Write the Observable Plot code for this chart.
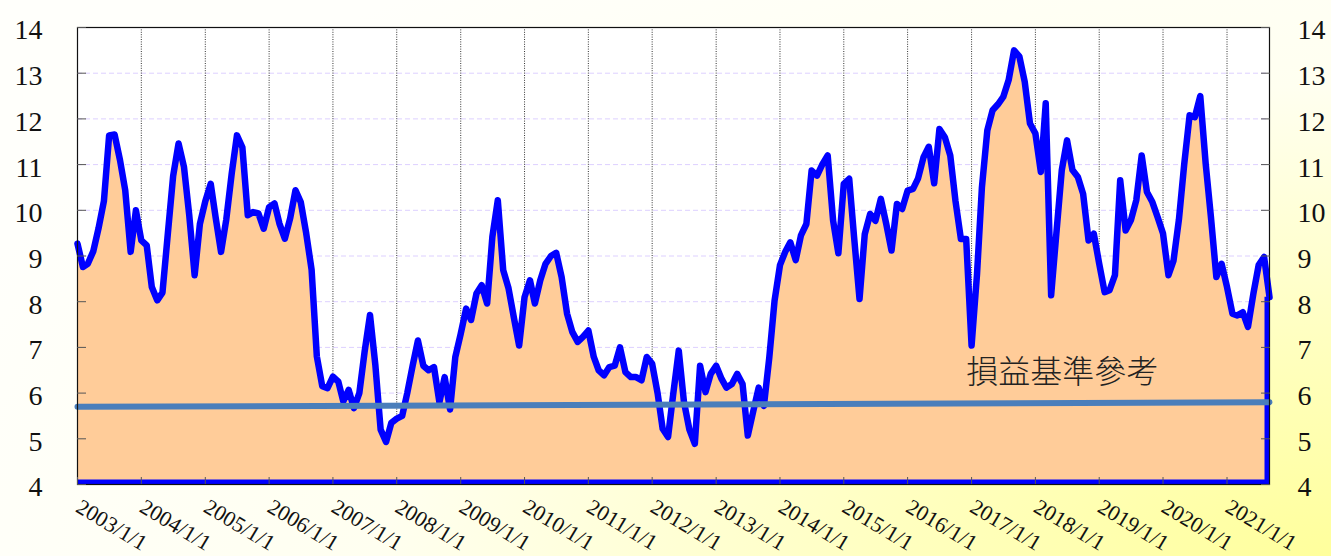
<!DOCTYPE html>
<html><head><meta charset="utf-8">
<script src="https://cdn.jsdelivr.net/npm/d3@7"></script>
<script src="https://cdn.jsdelivr.net/npm/@observablehq/plot@0.6"></script>
<style>
html,body{margin:0;padding:0;width:1331px;height:556px;overflow:hidden;
background: radial-gradient(ellipse 110% 130% at 100% 100%, #ffff9c 0%, #ffffc0 30%, #fffff0 65%, #fffffb 100%);}
svg{display:block}
</style></head><body><div id="chart"></div>
<script>
// monthly values, one array per year
const y2003 = [9.27, 8.76, 8.83, 9.1, 9.6, 10.2, 11.64, 11.66, 11.1, 10.44, 9.09, 10.0];
const y2004 = [9.34, 9.23, 8.32, 8.03, 8.2, 9.5, 10.75, 11.46, 10.95, 9.9, 8.58, 9.7];
const y2005 = [10.2, 10.58, 9.85, 9.09, 9.8, 10.8, 11.64, 11.38, 9.89, 9.96, 9.93, 9.6];
const y2006 = [10.07, 10.15, 9.71, 9.38, 9.82, 10.44, 10.18, 9.5, 8.7, 6.8, 6.15, 6.11];
const y2007 = [6.36, 6.25, 5.82, 6.07, 5.67, 6.0, 6.9, 7.71, 6.6, 5.2, 4.93, 5.35];
const y2008 = [5.44, 5.5, 6.0, 6.6, 7.15, 6.6, 6.5, 6.57, 5.8, 6.35, 5.64, 6.79];
const y2009 = [7.3, 7.85, 7.6, 8.18, 8.36, 7.96, 9.42, 10.22, 8.69, 8.3, 7.65, 7.04];
const y2010 = [8.1, 8.47, 7.96, 8.47, 8.83, 9.0, 9.07, 8.54, 7.74, 7.34, 7.12, 7.23];
const y2011 = [7.37, 6.79, 6.5, 6.39, 6.57, 6.6, 7.0, 6.46, 6.35, 6.35, 6.28, 6.79];
const y2012 = [6.64, 6.0, 5.22, 5.04, 6.0, 6.93, 5.8, 5.2, 4.89, 6.6, 6.02, 6.42];
const y2013 = [6.6, 6.31, 6.12, 6.2, 6.42, 6.2, 5.07, 5.6, 6.12, 5.72, 6.78, 8.02];
const y2014 = [8.8, 9.1, 9.3, 8.91, 9.45, 9.7, 10.87, 10.76, 11.01, 11.2, 9.77, 9.06];
const y2015 = [10.58, 10.69, 9.41, 8.06, 9.48, 9.92, 9.77, 10.25, 9.7, 9.12, 10.14, 10.03];
const y2016 = [10.43, 10.47, 10.7, 11.16, 11.39, 10.59, 11.78, 11.6, 11.2, 10.2, 9.37, 9.37];
const y2017 = [7.04, 8.6, 10.5, 11.75, 12.19, 12.32, 12.48, 12.85, 13.5, 13.37, 12.81, 11.9];
const y2018 = [11.68, 10.84, 12.34, 8.14, 9.5, 10.88, 11.53, 10.88, 10.73, 10.36, 9.34, 9.49];
const y2019 = [8.83, 8.21, 8.25, 8.58, 10.66, 9.56, 9.78, 10.22, 11.2, 10.4, 10.18, 9.85];
const y2020 = [9.49, 8.58, 8.9, 9.8, 11.0, 12.08, 12.04, 12.5, 11.02, 9.85, 8.54, 8.83];
const y2021 = [8.32, 7.74, 7.7, 7.77, 7.45, 8.18, 8.8, 8.98, 8.1];
const firstYear = 2003;

// benchmark line (損益基準參考)
const benchDates = ["2003-01-01", "2021-09-01"];
const benchValues = [5.7, 5.8];
const noteText = "損益基準參考";
const noteDate = "2016-12-01";
const noteValue = 6.45;

// tick labels
const yTicks = [4, 5, 6, 7, 8, 9, 10, 11, 12, 13, 14];
const xTickYears = d3.range(2003, 2022);

const years = [y2003, y2004, y2005, y2006, y2007, y2008, y2009, y2010, y2011, y2012,
  y2013, y2014, y2015, y2016, y2017, y2018, y2019, y2020, y2021];
const data = [];
years.forEach((arr, i) => arr.forEach((v, j) =>
  data.push({date: new Date(Date.UTC(firstYear + i, j, 1)), value: v})));
const last = data[data.length - 1];
const bench = benchDates.map((d, i) => ({date: new Date(d), value: benchValues[i]}));
const xTicks = xTickYears.map(y => new Date(Date.UTC(y, 0, 1)));
const yBase = yTicks[0];

const serif = "'Liberation Serif', 'DejaVu Serif', serif";
const blue = "#0000ff";

const chart = Plot.plot({
  width: 1331, height: 556,
  marginLeft: 77, marginRight: 62, marginTop: 27, marginBottom: 72,
  style: {background: "transparent", fontFamily: serif, overflow: "visible"},
  x: {type: "utc", domain: [data[0].date, last.date], axis: null},
  y: {domain: [yTicks[0], yTicks[yTicks.length - 1]], axis: null},
  marks: [
    Plot.frame({fill: "white", stroke: null}),
    Plot.gridY(yTicks.slice(1, -1), {stroke: "#ddd0ff", strokeOpacity: 1, strokeDasharray: "5,3"}),
    Plot.ruleX(xTicks.slice(1), {stroke: "#333", strokeOpacity: 1, strokeDasharray: "1,1.4"}),
    Plot.areaY(data, {x: "date", y1: yBase, y2: "value", fill: "#ffcc99"}),
    Plot.lineY(data, {x: "date", y: "value", stroke: blue, strokeWidth: 6.5, strokeLinejoin: "round", strokeLinecap: "round"}),
    Plot.ruleX([last], {x: "date", y1: yBase, y2: "value", stroke: blue, strokeWidth: 5, dx: -2.5}),
    Plot.ruleY([yBase], {stroke: blue, strokeWidth: 5, dy: -2.5}),
    Plot.lineY(bench, {x: "date", y: "value", stroke: "#4a7ebb", strokeWidth: 6}),
    Plot.text([noteText], {x: () => new Date(noteDate), y: () => noteValue, text: d => d,
      textAnchor: "start", lineAnchor: "middle", fontSize: 32, fill: "#222",
      fontFamily: "'Noto Sans CJK TC', 'Noto Sans CJK SC', sans-serif", fontWeight: 300}),
    Plot.frame({stroke: "#111", strokeWidth: 1.2}),
    // inward ticks
    Plot.axisY(yTicks, {anchor: "left", label: null, tickSize: 9, dx: 9, tickFormat: () => "", stroke: "#555"}),
    Plot.axisY(yTicks, {anchor: "right", label: null, tickSize: 9, dx: -9, tickFormat: () => "", stroke: "#555"}),
    Plot.axisX(xTicks, {anchor: "bottom", label: null, tickSize: 7, dy: -7, tickFormat: () => "", stroke: "#555"}),
    // tick labels
    Plot.text(yTicks, {y: d => d, frameAnchor: "left", dx: -35, dy: 3, textAnchor: "end", text: d => String(d),
      fontSize: 28, fill: "#111", fontFamily: serif}),
    Plot.text(yTicks, {y: d => d, frameAnchor: "right", dx: 28, dy: 3, textAnchor: "start", text: d => String(d),
      fontSize: 28, fill: "#111", fontFamily: serif}),
    Plot.text(xTicks, {x: d => d, frameAnchor: "bottom", dx: 5, dy: 13, rotate: 31, textAnchor: "start",
      lineAnchor: "top", text: d => `${d.getUTCFullYear()}/1/1`, fontSize: 22, fill: "#111", fontFamily: serif})
  ]
});
document.getElementById("chart").append(chart);
</script></body></html>
